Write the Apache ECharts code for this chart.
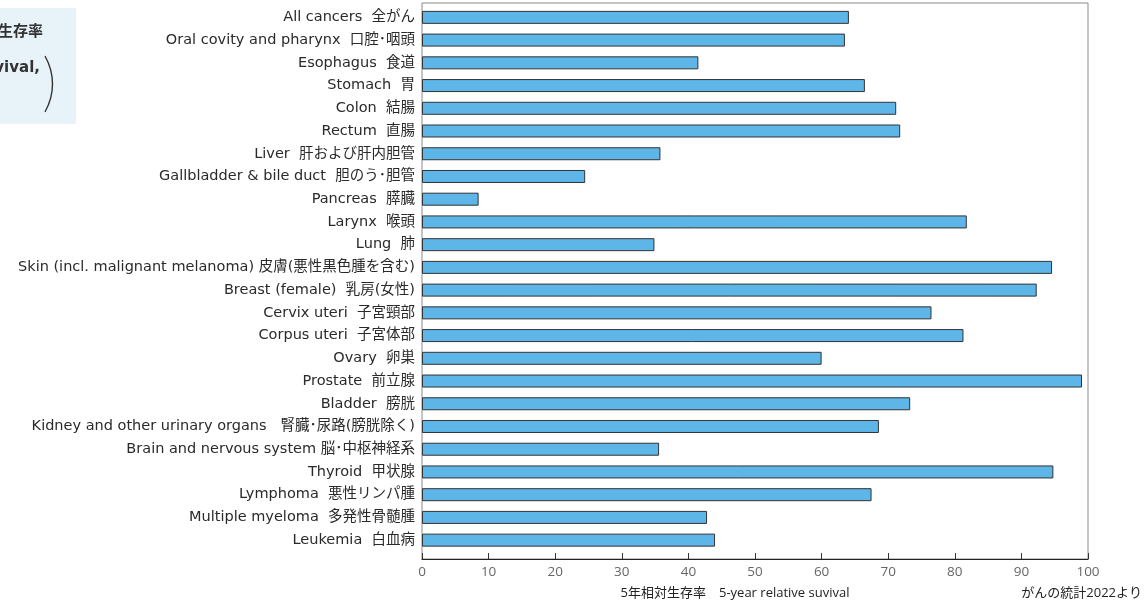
<!DOCTYPE html>
<html><head><meta charset="utf-8">
<script src="https://cdn.jsdelivr.net/npm/echarts@6/dist/echarts.min.js"></script>
<style>html,body{margin:0;padding:0;background:#fff}#c{width:1144px;height:605px}</style>
</head><body><div id="c"></div>
<script>
const categories = [
  "All cancers  全がん",
  "Oral covity and pharynx  口腔･咽頭",
  "Esophagus  食道",
  "Stomach  胃",
  "Colon  結腸",
  "Rectum  直腸",
  "Liver  肝および肝内胆管",
  "Gallbladder & bile duct  胆のう･胆管",
  "Pancreas  膵臓",
  "Larynx  喉頭",
  "Lung  肺",
  "Skin (incl. malignant melanoma) 皮膚(悪性黒色腫を含む)",
  "Breast (female)  乳房(女性)",
  "Cervix uteri  子宮頸部",
  "Corpus uteri  子宮体部",
  "Ovary  卵巣",
  "Prostate  前立腺",
  "Bladder  膀胱",
  "Kidney and other urinary organs   腎臓･尿路(膀胱除く)",
  "Brain and nervous system 脳･中枢神経系",
  "Thyroid  甲状腺",
  "Lymphoma  悪性リンパ腫",
  "Multiple myeloma  多発性骨髄腫",
  "Leukemia  白血病"
];
const survival = [64.1, 63.5, 41.5, 66.5, 71.2, 71.8, 35.8, 24.5, 8.5, 81.8, 34.9, 94.6, 92.3, 76.5, 81.3, 60.0, 99.1, 73.3, 68.6, 35.6, 94.8, 67.5, 42.8, 44.0];
const xTicks = [0, 100, 10];
const axisTitle = "5年相対生存率　5-year relative suvival";
const sourceText = "がんの統計2022より";

const FONT = '"Open Sans", "Noto Sans CJK JP", sans-serif';
const LABEL_FONT = '"DejaVu Sans", "Noto Sans CJK JP", sans-serif';
const chart = echarts.init(document.getElementById('c'));
chart.setOption({
  animation: false,
  backgroundColor: '#fff',
  textStyle: { fontFamily: FONT },
  grid: [
    { left: 422, right: 56, top: 3, bottom: 46, show: true, borderColor: '#8a8a8a', borderWidth: 1, backgroundColor: 'transparent' },
    { left: 422, right: 56, top: 6, bottom: 53.5, containLabel: false }
  ],
  xAxis: [
    { gridIndex: 0, type: 'value', min: xTicks[0], max: xTicks[1], interval: xTicks[2],
      axisLine: { show: true, lineStyle: { color: '#222', width: 1.2 } },
      axisTick: { show: true, inside: true, length: 6, lineStyle: { color: '#333' } },
      axisLabel: { color: '#666', fontSize: 13.5, margin: 6, fontFamily: FONT },
      splitLine: { show: false } },
    { gridIndex: 1, type: 'value', min: xTicks[0], max: xTicks[1], show: false }
  ],
  yAxis: [
    { gridIndex: 0, type: 'value', show: false, min: 0, max: 1 },
    { gridIndex: 1, type: 'category', inverse: true, data: categories,
      axisLine: { show: false }, axisTick: { show: false },
      axisLabel: { color: '#2a2a2a', fontSize: 14.5, margin: 7, fontFamily: LABEL_FONT } }
  ],
  series: [{
    type: 'bar', xAxisIndex: 1, yAxisIndex: 1, data: survival, barWidth: 13,
    itemStyle: { color: '#5db5e8', borderColor: '#333', borderWidth: 1 }
  }],
  graphic: [
    { type: 'rect', left: 0, top: 8, shape: { width: 76, height: 116 }, style: { fill: '#e7f3f8' }, z: 0 },
    { type: 'text', x: 43, y: 32, style: { text: '5年相対生存率', align: 'right', verticalAlign: 'middle', fill: '#333', font: 'bold 15px ' + LABEL_FONT }, z: 1 },
    { type: 'text', x: 40, y: 68, style: { text: '5-year relative survival,', align: 'right', verticalAlign: 'middle', fill: '#333', font: 'bold 15px ' + LABEL_FONT }, z: 1 },
    { type: 'bezierCurve', shape: { x1: 45, y1: 56, x2: 45, y2: 112, cpx1: 55, cpy1: 74, cpx2: 55, cpy2: 94 }, style: { stroke: '#333', lineWidth: 1.4, fill: null }, z: 1 },
    { type: 'text', x: 735, y: 593, style: { text: axisTitle, align: 'center', verticalAlign: 'middle', fill: '#222', font: '13px ' + FONT } },
    { type: 'text', x: 1142, y: 593, style: { text: sourceText, align: 'right', verticalAlign: 'middle', fill: '#222', font: '13px ' + FONT } }
  ]
});
</script></body></html>
